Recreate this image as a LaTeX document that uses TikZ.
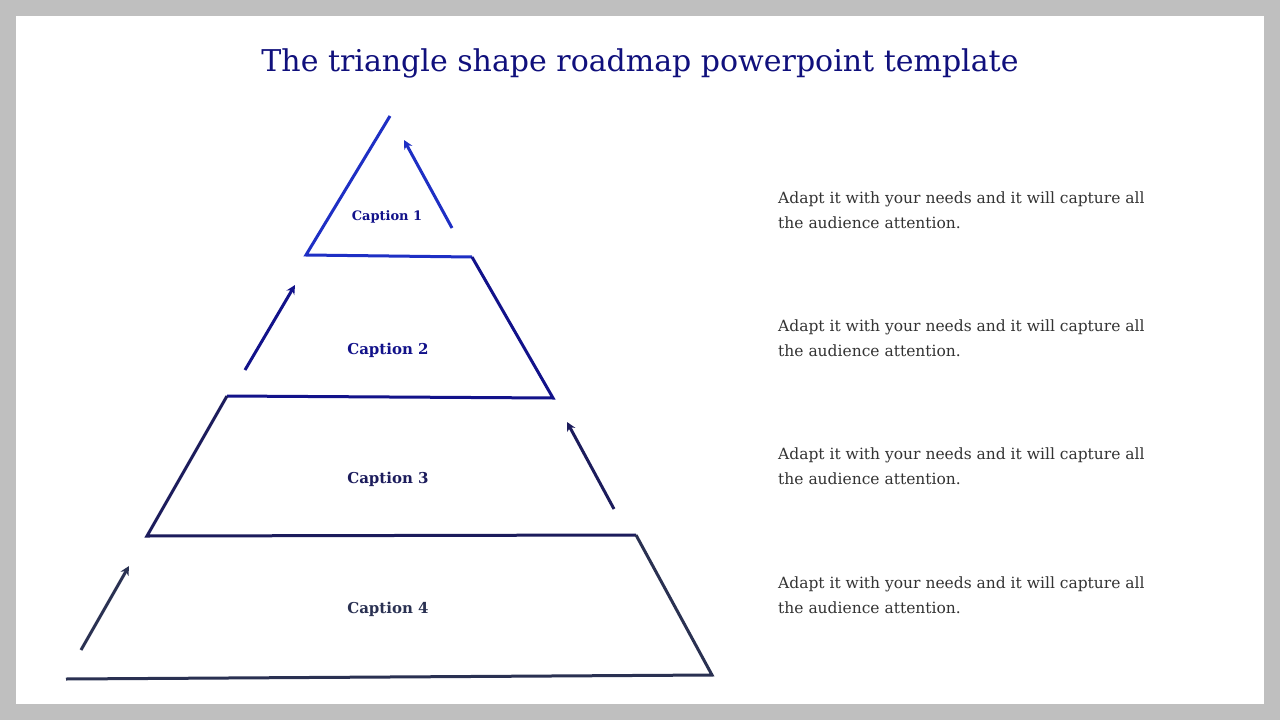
\documentclass[tikz,border=0pt]{standalone}
\usepackage{fontspec}
\setmainfont{DejaVu Serif}
\usetikzlibrary{arrows.meta}
\begin{document}
\begin{tikzpicture}[x=1pt,y=-1pt,
  edge/.style={line width=3pt,line join=miter},
  arr/.style={line width=3pt,-{Stealth[length=9pt,width=9pt]}},
  captxt/.style={font=\bfseries\fontsize{15}{18}\selectfont},
  desc/.style={anchor=north west,align=left,text=black!80,font=\fontsize{15.5}{25}\selectfont,inner sep=0pt}]
\definecolor{c1}{HTML}{1E2FC4}
\definecolor{c2}{HTML}{12128A}
\definecolor{c3}{HTML}{1C1C5C}
\definecolor{c4}{HTML}{2A3152}
\fill[gray!100!black!50] (0,0) rectangle (1280,720);
\fill[white] (16,16) rectangle (1264,704);
\useasboundingbox (0,0) rectangle (1280,720);
\node[text=c2!90!black,font=\fontsize{30}{36}\selectfont] (title) at (640,63) {The triangle shape roadmap powerpoint template};
\coordinate (a) at (390,116);
\coordinate (b1) at (306,255); \coordinate (b2) at (472,257);
\coordinate (c1) at (227,396); \coordinate (c2) at (553,398);
\coordinate (d1) at (147,536); \coordinate (d2) at (636,535);
\coordinate (e1) at (66,679); \coordinate (e2) at (712,675);
\draw[edge,c1] (a) -- (b1) -- (b2);
\draw[edge,c2] (b2) -- (c2) -- (c1);
\draw[edge,c3] (c1) -- (d1) -- (d2);
\draw[edge,c4] (d2) -- (e2) -- (e1);
\coordinate (s1) at (452,228); \coordinate (t1) at (404,140);
\coordinate (s2) at (245,370); \coordinate (t2) at (295,285);
\coordinate (s3) at (614,509); \coordinate (t3) at (567,422);
\coordinate (s4) at (81,650); \coordinate (t4) at (129,566);
\draw[arr,c1] (s1) -- (t1);
\draw[arr,c2] (s2) -- (t2);
\draw[arr,c3] (s3) -- (t3);
\draw[arr,c4] (s4) -- (t4);
\node[text=c2,font=\bfseries\fontsize{13}{16}\selectfont] (k1) at (387,217) {Caption 1};
\node[captxt,text=c2] (k2) at (388,350) {Caption 2};
\node[captxt,text=c3] (k3) at (388,479) {Caption 3};
\node[captxt,text=c4] (k4) at (388,609) {Caption 4};
\foreach \y/\n in {192/r1,320/r2,448/r3,577/r4}
  \node[desc] (\n) at (778,\y) {Adapt it with your needs and it will capture all\\the audience attention.};
\end{tikzpicture}
\end{document}
